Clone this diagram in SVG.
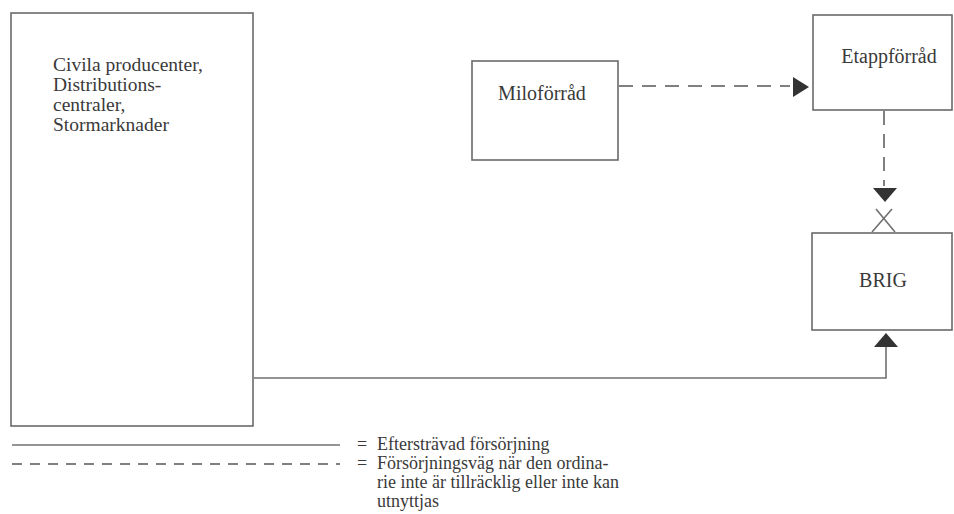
<svg xmlns="http://www.w3.org/2000/svg" width="954" height="514" viewBox="0 0 954 514">
<style>
.box{fill:#fff;stroke:#6a6a6a;stroke-width:1.6}
.t{font-family:"Liberation Serif","Times New Roman",serif;font-size:20px;fill:#3a3a3a}
.c{font-size:19.5px}
.lg{font-family:"Liberation Serif","Times New Roman",serif;font-size:18px;fill:#3a3a3a}
.ln{fill:none;stroke:#707070;stroke-width:1.6}
.dash{fill:none;stroke:#808080;stroke-width:2;stroke-dasharray:14 9}
.head{fill:#333}
</style>
<rect width="954" height="514" fill="#fff"/>
<g id="civila">
<rect class="box" x="11" y="13" width="242" height="413"/>
<text class="t c" x="53" y="71">Civila producenter,</text>
<text class="t c" x="53" y="91">Distributions-</text>
<text class="t c" x="53" y="111">centraler,</text>
<text class="t c" x="53" y="131">Stormarknader</text>
</g>
<g id="milo">
<rect class="box" x="472" y="61" width="146" height="99"/>
<text class="t" x="542" y="100" text-anchor="middle">Miloförråd</text>
</g>
<g id="etapp">
<rect class="box" x="813" y="15" width="139" height="95"/>
<text class="t" x="889" y="63" text-anchor="middle">Etappförråd</text>
</g>
<g id="brig">
<rect class="box" x="812" y="233" width="140" height="97"/>
<text class="t" x="883" y="287" text-anchor="middle">BRIG</text>
</g>
<g id="connectors">
<line class="dash" x1="619" y1="86" x2="790" y2="86"/>
<polygon class="head" points="793,77 809,87 793,97"/>
<line class="dash" x1="884" y1="111" x2="884" y2="186"/>
<polygon class="head" points="873,188 897,188 885,202"/>
<path class="ln" d="M876,209 L895,232 M892,209 L872,232" stroke-width="1.4"/>
<path class="ln" d="M254,378 L886,378 L886,346"/>
<polygon class="head" points="874,347 898,347 886,333"/>
</g>
<g id="legend">
<line class="ln" x1="12" y1="445" x2="340" y2="445"/>
<line class="dash" x1="12" y1="464" x2="340" y2="464" style="stroke-dasharray:10 8"/>
<text class="lg" x="357" y="450">=</text>
<text class="lg" x="377" y="450">Eftersträvad försörjning</text>
<text class="lg" x="357" y="469">=</text>
<text class="lg" x="377" y="469">Försörjningsväg när den ordina-</text>
<text class="lg" x="377" y="488">rie inte är tillräcklig eller inte kan</text>
<text class="lg" x="377" y="507">utnyttjas</text>
</g>
</svg>
